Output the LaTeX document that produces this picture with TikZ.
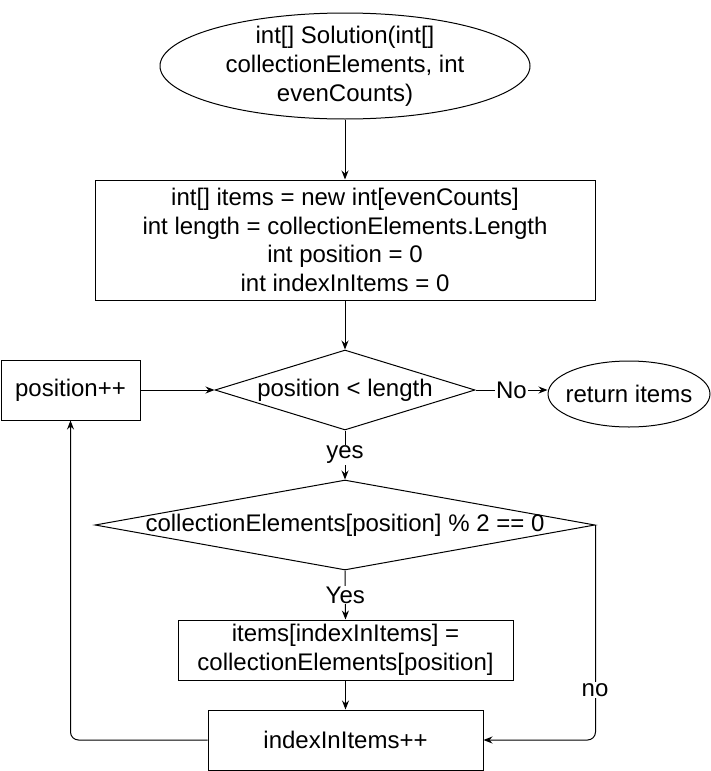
\documentclass[tikz,border=0pt]{standalone}
\usepackage{fontspec}
\setmainfont{Liberation Sans}
\usetikzlibrary{shapes.geometric,arrows.meta}
\begin{document}
\begin{tikzpicture}[x=1pt,y=-1pt,line width=1pt,
  every node/.style={font=\fontsize{24}{28.8}\selectfont,align=center},
  box/.style={draw,rectangle,inner sep=0pt},
  shp/.style={draw,inner sep=0pt},
  arr/.style={-{Stealth[length=9pt,width=7pt,inset=3pt]}},
  lab/.style={fill=white,inner sep=1pt}]
\useasboundingbox (0,0) rectangle (711,771);
% start ellipse
\node[shp,ellipse,minimum width=370,minimum height=106] (start) at (345,66) {};
\node (starttxt) at (start) {int[] Solution(int[]\\collectionElements, int\\evenCounts)};
% init box
\node[box,minimum width=500,minimum height=120] (init) at (345,240)
  {int[] items = new int[evenCounts]\\int length = collectionElements.Length\\int position = 0\\int indexInItems = 0};
% decision 1
\node[shp,diamond,minimum width=260,minimum height=80] (d1) at (345,390) {};
\node (d1txt) at (d1) {position < length};
% return
\node[shp,ellipse,minimum width=162,minimum height=66] (ret) at (629,394) {};
\node (rettxt) at (ret) {return items};
% position++
\node[box,minimum width=139,minimum height=60] (pos) at (70.5,390) {position++};
% decision 2
\node[shp,diamond,minimum width=500,minimum height=90] (d2) at (345,525) {};
\node (d2txt) at (d2) {collectionElements[position] \% 2 == 0};
% assign
\node[box,minimum width=335,minimum height=60] (assign) at (345.5,650) {items[indexInItems] =\\collectionElements[position]};
% inc
\node[box,minimum width=275,minimum height=60] (inc) at (345.5,740) {indexInItems++};
% connectors
\draw[arr] (start.south) -- (init.north);
\draw[arr] (init.south) -- (d1.north);
\draw[arr] (d1.east) -- node[lab] (nolab1) {No} (d1.east -| ret.west);
\draw[arr] (pos.east) -- (d1.west);
\draw[arr] (d1.south) -- node[lab] (yeslab1) {yes} (d2.north);
\draw[arr] (d2.south) -- node[lab] (yeslab2) {Yes} (assign.north);
\draw[arr] (assign.south) -- (inc.north);
\draw[arr,rounded corners=8pt] (d2.east) -- (d2.east |- inc.east) -- (inc.east);
\node[lab] (nolab2) at (595,690) {no};
\draw[arr,rounded corners=8pt] (inc.west) -- (pos.south |- inc.west) -- (pos.south);
\end{tikzpicture}
\end{document}
